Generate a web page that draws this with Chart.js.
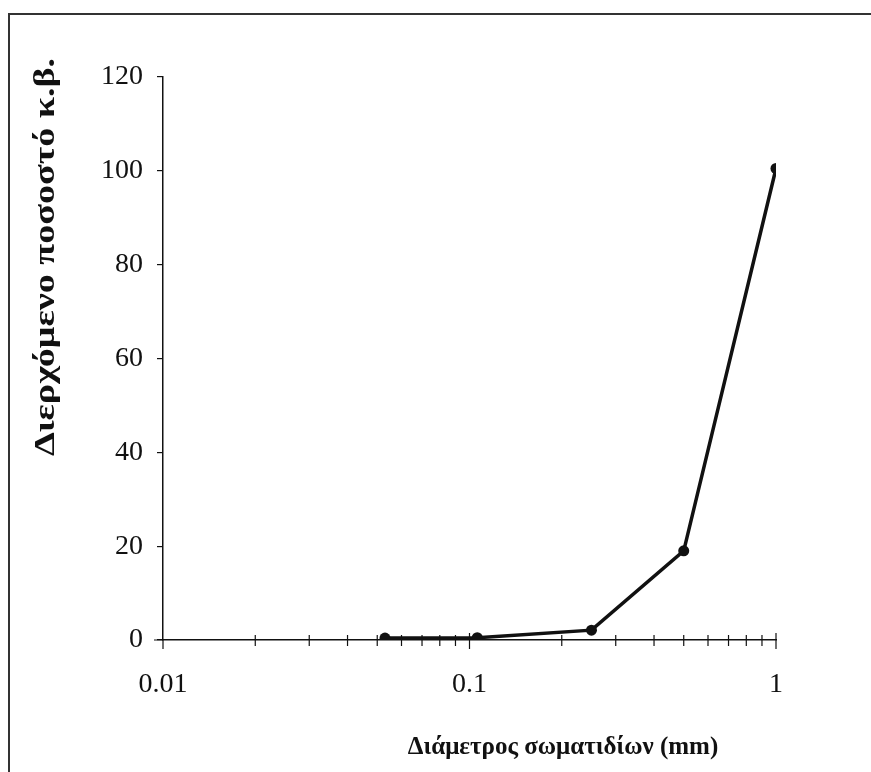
<!DOCTYPE html>
<html>
<head>
<meta charset="utf-8">
<script src="https://cdn.jsdelivr.net/npm/chart.js@4/dist/chart.umd.min.js"></script>
<style>
  html, body { margin:0; padding:0; background:#fff; }
  #wrap { position:relative; width:871px; height:772px; overflow:hidden; }
  #frame { position:absolute; left:8px; top:13px; width:870px; height:770px;
           border-left:2px solid #333; border-top:2px solid #333; }
  canvas { position:absolute; left:0; top:0; }
</style>
</head>
<body>
<div id="wrap">
  <div id="frame"></div>
  <canvas id="c" width="871" height="772"></canvas>
</div>
<script>
// particle size (mm) vs cumulative percent passing
const sizes   = [0.053, 0.106, 0.25, 0.5, 1];
const passing = [0.4, 0.5, 2.1, 19, 100.5];

const xMajor = [0.01, 0.1, 1];
const xMinor = [0.02, 0.03, 0.04, 0.05, 0.06, 0.07, 0.08, 0.09,
                0.2, 0.3, 0.4, 0.5, 0.6, 0.7, 0.8, 0.9];
const yTicks = [0, 20, 40, 60, 80, 100, 120];

const xTitle = 'Διάμετρος σωματιδίων (mm)';
const yTitle = 'Διερχόμενο ποσοστό κ.β.';

const serif = '"Liberation Serif", "DejaVu Serif", serif';

const decor = {
  id: 'decor',
  afterDraw(chart) {
    const { ctx, scales:{x, y} } = chart;
    const y0 = y.getPixelForValue(0);
    ctx.save();
    ctx.strokeStyle = '#111';
    ctx.lineWidth = 1.2;
    ctx.beginPath();
    xMinor.forEach(v => {
      const px = x.getPixelForValue(v);
      ctx.moveTo(px, y0 - 5); ctx.lineTo(px, y0 + 6);
    });
    [0.1, 1].forEach(v => {
      const px = x.getPixelForValue(v);
      ctx.moveTo(px, y0 - 7); ctx.lineTo(px, y0 + 9);
    });
    // axis line stubs
    ctx.moveTo(x.left - 9, y0); ctx.lineTo(x.left, y0);
    ctx.moveTo(x.left, y0); ctx.lineTo(x.left, y0 + 9);
    ctx.stroke();

    ctx.fillStyle = '#111';
    ctx.font = 'bold 25px ' + serif;
    ctx.textAlign = 'center';
    ctx.textBaseline = 'middle';
    ctx.fillText(xTitle, 563, 748);

    // rotated y title, a bit stretched along its length like the scan
    ctx.translate(46, 257);
    ctx.rotate(-Math.PI / 2);
    ctx.scale(1.27, 1);
    ctx.font = 'bold 30px ' + serif;
    ctx.fillText(yTitle, 0, 0);
    ctx.restore();
  }
};

new Chart(document.getElementById('c'), {
  type: 'scatter',
  data: {
    datasets: [{
      data: sizes.map((s, i) => ({ x: s, y: passing[i] })),
      showLine: true,
      borderColor: '#111',
      backgroundColor: '#111',
      borderWidth: 3.5,
      pointRadius: 5.5,
      pointBorderWidth: 0,
      tension: 0
    }]
  },
  options: {
    responsive: false,
    animation: false,
    layout: { padding: { top: 77, right: 95, left: 0, bottom: 0 } },
    plugins: { legend: { display:false }, tooltip: { enabled:false } },
    scales: {
      x: {
        type: 'logarithmic',
        min: 0.01, max: 1,
        afterBuildTicks: s => { s.ticks = xMajor.map(v => ({ value: v })); },
        afterFit: s => { s.height = 132; },
        grid: { display:false, drawTicks:false },
        border: { display:true, color:'#111', width:1.5 },
        ticks: {
          color:'#111', padding: 28, maxRotation: 0,
          font: { family: serif, size: 28 },
          callback: v => String(v)
        }
      },
      y: {
        min: 0, max: 120,
        afterBuildTicks: s => { s.ticks = yTicks.map(v => ({ value: v })); },
        afterFit: s => { s.width = 163; },
        grid: { drawOnChartArea:false, drawTicks:true, tickLength:6, color:'#111', lineWidth:1.2 },
        border: { display:true, color:'#111', width:1.5 },
        ticks: {
          color:'#111', padding: 14,
          font: { family: serif, size: 28 }
        }
      }
    }
  },
  plugins: [decor]
});
</script>
</body>
</html>
